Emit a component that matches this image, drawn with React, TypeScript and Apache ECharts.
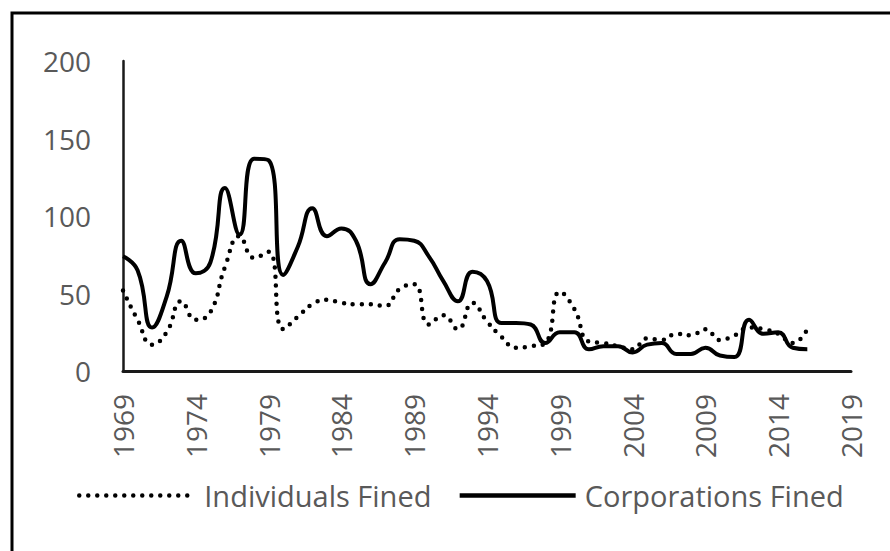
import React, { useEffect, useRef } from "react";
import * as echarts from "echarts";

const years: string[] = [];
for (let y = 1969; y <= 2019; y++) years.push(String(y));

const individualsFined = [
  52, 33, 17, 25, 45, 33, 38, 67, 87, 73,
  77, 27, 35, 43, 46, 44, 43, 43, 42, 53,
  56, 30, 36, 27, 44, 32, 22, 15, 16, 18,
  51, 40, 19, 18, 16, 14, 21, 20, 24, 23,
  27, 20, 23, 28, 27, 24, 18, 27,
];

const corporationsFined = [
  74, 65, 28, 48, 84, 63, 70, 118, 88, 137,
  136, 62, 80, 105, 87, 92, 84, 56, 70, 85,
  84, 74, 58, 45, 64, 58, 31, 31, 30, 18,
  25, 25, 14, 16, 16, 12, 17, 18, 11, 11,
  15, 10, 9, 33, 24, 25, 15, 14,
];

const seriesNames = ["Individuals Fined", "Corporations Fined"];

export default function App() {
  const ref = useRef<HTMLDivElement>(null);
  useEffect(() => {
    if (!ref.current) return;
    const chart = echarts.init(ref.current, null, { renderer: "svg" });
    const font = "'Open Sans', sans-serif";
    chart.setOption({
      animation: false,
      backgroundColor: "#ffffff",
      grid: { left: 123, right: 39, top: 61, bottom: 180, containLabel: false },
      xAxis: {
        type: "category",
        data: years,
        boundaryGap: false,
        axisLine: { show: true, lineStyle: { color: "#1a1a1a", width: 3 } },
        axisTick: { show: false },
        axisLabel: {
          interval: 4,
          rotate: 90,
          margin: 23,
          color: "#595959",
          fontSize: 28,
          fontFamily: font,
        },
        splitLine: { show: false },
      },
      yAxis: {
        type: "value",
        min: 0,
        max: 200,
        interval: 50,
        axisLine: { show: true, lineStyle: { color: "#1a1a1a", width: 2.5 } },
        axisTick: { show: false },
        axisLabel: {
          margin: 32,
          color: "#595959",
          fontSize: 28,
          fontFamily: font,
        },
        splitLine: { show: false },
      },
      legend: {
        left: 72,
        top: 476,
        itemWidth: 116,
        itemHeight: 14,
        itemGap: 26,
        itemStyle: { opacity: 0 },
        lineStyle: { width: 4.5 },
        textStyle: {
          color: "#595959",
          fontSize: 29,
          fontFamily: font,
          padding: [0, 0, 0, 4],
        },
        data: seriesNames,
      },
      series: [
        {
          name: seriesNames[0],
          type: "line",
          data: individualsFined,
          smooth: 0.5,
          symbol: "none",
          showSymbol: false,
          lineStyle: { color: "#000000", width: 4.5, type: [0, 9], cap: "round" },
          itemStyle: { color: "#000000" },
        },
        {
          name: seriesNames[1],
          type: "line",
          data: corporationsFined,
          smooth: 0.5,
          symbol: "none",
          showSymbol: false,
          lineStyle: { color: "#000000", width: 4 },
          itemStyle: { color: "#000000" },
        },
      ],
      graphic: [
        {
          type: "rect",
          shape: { x: 12, y: 13, width: 900, height: 600 },
          style: { fill: "none", stroke: "#000000", lineWidth: 3 },
          silent: true,
        },
      ],
    });
    return () => chart.dispose();
  }, []);
  return (
    <div
      ref={ref}
      style={{ position: "fixed", left: 0, top: 0, width: 890, height: 551 }}
    />
  );
}
